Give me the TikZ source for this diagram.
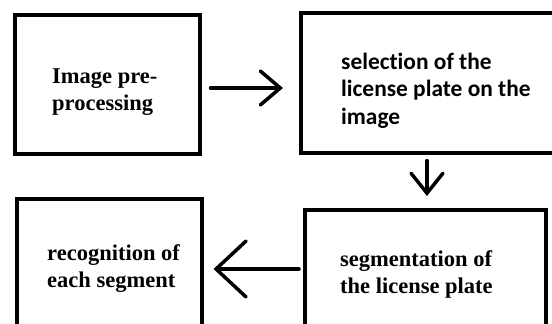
\documentclass[tikz,border=0pt]{standalone}
\usepackage{fontspec}
\setmainfont{Liberation Serif}
\newfontfamily\calfont[Ligatures=NoCommon]{Carlito}
\usetikzlibrary{positioning, arrows.meta}

\tikzset{
    stage/.style={draw, line width=4pt, inner sep=0pt},
    serif/.style={font=\fontsize{22.5}{27}\selectfont\bfseries, align=left, inner sep=0pt},
    sans/.style={font=\calfont\fontsize{23.4}{27.3}\selectfont\bfseries, align=left, inner sep=0pt},
    flow/.style={line width=3.5pt, line cap=round}
}

\begin{document}
\begin{tikzpicture}[x=1pt, y=-1pt]
    \useasboundingbox (0,0) rectangle (552,324);
    \clip (0,0) rectangle (552,324);
    % boxes
    \node (pre) [stage, minimum width=184.5pt, minimum height=139pt] at (107.25,84.5) {};
    \node (sel) [stage, minimum width=257pt, minimum height=139.7pt] at (429.5,82.85) {};
    \node (rec) [stage, minimum width=184.5pt, minimum height=141pt] at (109.25,269) {};
    \node (seg) [stage, minimum width=241pt, minimum height=118pt] at (425.5,269) {};
    % texts (base = last line)
    \node (preT) [serif, anchor=base west] at (52,110) {Image pre-\\processing};
    \node (selT) [sans, anchor=base west] at (341,124) {selection of the\\license plate on the\\image};
    \node (recT) [serif, anchor=base west] at (47,287) {recognition of\\each segment};
    \node (segT) [serif, anchor=base west] at (340,293) {segmentation of\\the license plate};
    % arrows
    \draw [flow, -{Straight Barb[length=20pt, width=34pt, line width=3.5pt, line cap=round]}, shorten <=9pt, shorten >=16pt]
        ([yshift=-3.5pt]pre.east) -- ([yshift=-3.5pt]pre.east -| sel.west);
    \draw [flow, -{Straight Barb[length=20pt, width=32pt, line width=3.5pt, line cap=round]}, shorten <=6pt, shorten >=12pt]
        ([xshift=-2.5pt]sel.south) -- ([xshift=-2.5pt]sel.south |- seg.north);
    \draw [flow, -{Straight Barb[length=30pt, width=56pt, line width=3.5pt, line cap=round]}, shorten <=4pt, shorten >=10pt]
        (seg.west) -- (rec.east);
\end{tikzpicture}
\end{document}
